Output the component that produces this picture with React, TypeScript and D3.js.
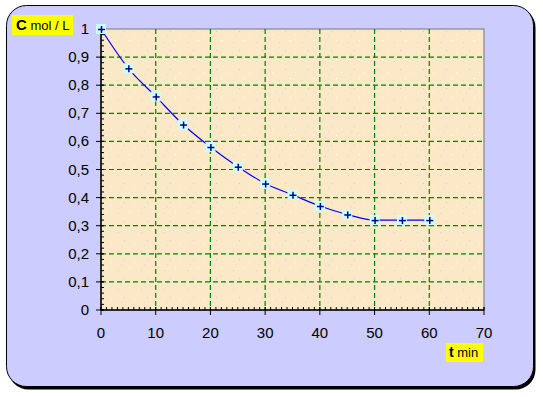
import React from "react";
import * as d3 from "d3";

const times = [0, 5, 10, 15, 20, 25, 30, 35, 40, 45, 50, 55, 60];
const conc = [1, 0.86, 0.76, 0.66, 0.58, 0.51, 0.45, 0.41, 0.37, 0.34, 0.32, 0.32, 0.32];
const xTicks = [0, 10, 20, 30, 40, 50, 60, 70];
const yTicks = [0, 0.1, 0.2, 0.3, 0.4, 0.5, 0.6, 0.7, 0.8, 0.9, 1];

const W = 543, H = 397;
const L = 101, R = 484, T = 29, B = 310;

export default function App() {
  const x = d3.scaleLinear().domain([0, 70]).range([L, R]);
  const y = d3.scaleLinear().domain([0, 1]).range([B, T]);
  const line = d3.line<number>().x((_, i) => x(times[i])).y((d) => y(d)).curve(d3.curveMonotoneX);
  const minorX = d3.range(0, 71, 1);
  const minorY = d3.range(0, 51, 1).map((k) => k * 0.02);
  const fmt = (v: number) => String(+v.toFixed(1)).replace(".", ",");
  const font = "Liberation Sans, Arial, sans-serif";
  return (
    <svg width={W} height={H} style={{ position: "absolute", left: 0, top: 0, background: "#fff" }}>
      <defs>
        <pattern id="spk" width="23" height="19" patternUnits="userSpaceOnUse">
          <rect width="23" height="19" fill="#fbe8c6" />
          <rect x="3" y="4" width="1" height="1" fill="#d8d0f0" />
          <rect x="14" y="2" width="1" height="1" fill="#ffffff" />
          <rect x="9" y="12" width="1" height="1" fill="#d0c8f4" />
          <rect x="19" y="15" width="1" height="1" fill="#fff8ee" />
          <rect x="6" y="17" width="1" height="1" fill="#e0d4ee" />
        </pattern>
      </defs>
      <rect x={8.5} y={7.5} width={527} height={382} rx={20} fill="#000" />
      <rect x={6.5} y={5.5} width={527} height={381} rx={20} fill="#ccccff" stroke="#000" strokeWidth={1} />
      <rect x={L} y={T} width={R - L} height={B - T} fill="url(#spk)" stroke="#888" strokeWidth={1.2} />
      {xTicks.filter((t) => t > 0 && t < 70).map((t) => (
        <line key={"gx" + t} x1={x(t)} x2={x(t)} y1={T} y2={B} stroke="#008000" strokeDasharray="5,3" strokeWidth={1.2} />
      ))}
      {yTicks.filter((t) => t > 0 && t < 1).map((t) => (
        <line key={"gy" + t} x1={L} x2={R} y1={y(t)} y2={y(t)} stroke="#008000" strokeDasharray="5,3" strokeWidth={1.2} />
      ))}
      {minorX.map((t) => (
        <line key={"mx" + t} x1={x(t)} x2={x(t)} y1={B} y2={B - 3} stroke="#000" />
      ))}
      {minorY.map((t, i) => (
        <line key={"my" + i} x1={L} x2={L + 3} y1={y(t)} y2={y(t)} stroke="#000" />
      ))}
      {xTicks.map((t) => (
        <line key={"tx" + t} x1={x(t)} x2={x(t)} y1={B - 3} y2={B + 5} stroke="#000" />
      ))}
      {yTicks.map((t) => (
        <line key={"ty" + t} x1={L - 5} x2={L + 3} y1={y(t)} y2={y(t)} stroke="#000" />
      ))}
      <line x1={L} x2={R} y1={B} y2={B} stroke="#000" strokeWidth={1.5} />
      <line x1={L} x2={L} y1={T} y2={B} stroke="#000" strokeWidth={1.5} />
      {xTicks.map((t) => (
        <text key={"lx" + t} x={x(t)} y={B + 28} textAnchor="middle" fontFamily={font} fontSize={15}>{t}</text>
      ))}
      {yTicks.map((t) => (
        <text key={"ly" + t} x={89} y={y(t) + 5} textAnchor="end" fontFamily={font} fontSize={15}>{fmt(t)}</text>
      ))}
      <path d={line(conc) || ""} fill="none" stroke="#0000ff" strokeWidth={1.2} />
      {conc.map((c, i) => (
        <g key={"p" + i} transform={`translate(${x(times[i])},${y(c)})`}>
          <rect x={-5} y={-5} width={10} height={10} fill="#ccffff" />
          <line x1={-3} x2={4} y1={0.5} y2={0.5} stroke="#000080" strokeWidth={1.5} />
          <line x1={0.5} x2={0.5} y1={-3} y2={4} stroke="#000080" strokeWidth={1.5} />
        </g>
      ))}
      <rect x={12} y={15} width={61} height={20} fill="#ffff00" />
      <text x={16} y={30} fontFamily={font} fontSize={13}>
        <tspan fontWeight="bold" fontSize={15}>C</tspan> mol / L
      </text>
      <rect x={446} y={343} width={37} height={19} fill="#ffff00" />
      <text x={449} y={357} fontFamily={font} fontSize={13}>
        <tspan fontWeight="bold" fontSize={14}>t</tspan> min
      </text>
    </svg>
  );
}
